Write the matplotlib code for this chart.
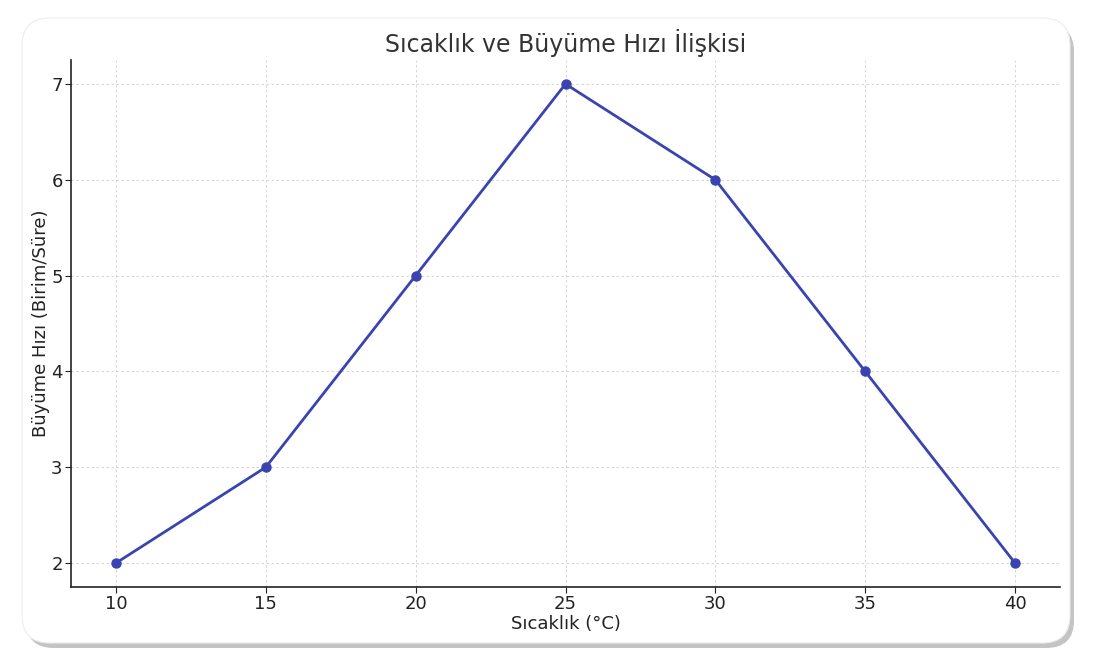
'''
Temperature vs growth rate line chart
'''
import matplotlib
matplotlib.use('Agg')
import matplotlib.pyplot as plt
from matplotlib.patches import FancyBboxPatch

temperatures = [10, 15, 20, 25, 30, 35, 40]
growth_rates = [2, 3, 5, 7, 6, 4, 2]

title  = 'Sıcaklık ve Büyüme Hızı İlişkisi'
xlabel = 'Sıcaklık (°C)'
ylabel = 'Büyüme Hızı (Birim/Süre)'

plt.rcParams['font.family'] = ['DejaVu Sans']

fig = plt.figure(figsize=(11.10, 6.58), dpi=100)
fig.patch.set_facecolor('white')

# card with shadow
W, H = 1110, 658
shadow = FancyBboxPatch((26 / W, 10 / H), 1048 / W, 624 / H,
                        boxstyle='round,pad=0,rounding_size=0.025',
                        transform=fig.transFigure, facecolor='#c4c4c4',
                        edgecolor='none', zorder=0, mutation_aspect=W / H)
card = FancyBboxPatch((22 / W, 15 / H), 1048 / W, 625 / H,
                      boxstyle='round,pad=0,rounding_size=0.025',
                      transform=fig.transFigure, facecolor='white',
                      edgecolor='#ececec', linewidth=0.8, zorder=1, mutation_aspect=W / H)
fig.patches.extend([shadow, card])

ax = fig.add_axes([71 / W, 1 - 587 / H, (1060 - 71) / W, (587 - 60) / H])
ax.set_facecolor('none')
ax.set_zorder(2)

ax.plot(temperatures, growth_rates, color='#3a44b0', linewidth=2,
        marker='o', markersize=6.5)

ax.set_title(title, fontsize=17, color='#333333', pad=6)
ax.set_xlabel(xlabel, fontsize=13, color='#222222', labelpad=1)
ax.set_ylabel(ylabel, fontsize=13, color='#222222', labelpad=1)

ax.set_xticks(temperatures)
ax.tick_params(labelsize=13, colors='#222222', length=4, width=0.8, pad=2)
ax.grid(True, linestyle=(0, (3, 3)), color='#d0d0d0', linewidth=0.6)

for side in ['top', 'right']:
    ax.spines[side].set_visible(False)
for side in ['left', 'bottom']:
    ax.spines[side].set_color('#222222')
    ax.spines[side].set_linewidth(1.2)

fig.savefig('out.png', dpi=100)
